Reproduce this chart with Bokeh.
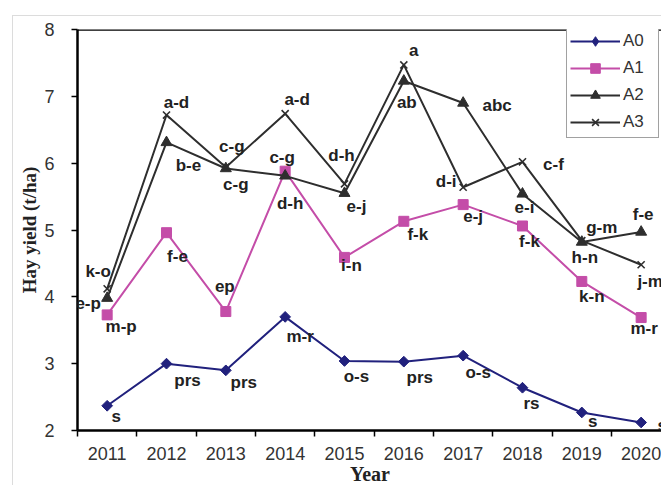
import math

from bokeh.core.properties import value
from bokeh.embed import file_html
from bokeh.models import (ColumnDataSource, FixedTicker, LabelSet, Range1d,
                          Span, Title)
from bokeh.plotting import figure
from bokeh.resources import INLINE

# Hay yield (t/ha) per treatment and year
years = [2011, 2012, 2013, 2014, 2015, 2016, 2017, 2018, 2019, 2020]
a0 = [2.37, 3.00, 2.90, 3.70, 3.04, 3.03, 3.12, 2.64, 2.27, 2.12]
a1 = [3.73, 4.96, 3.78, 5.88, 4.59, 5.13, 5.38, 5.06, 4.23, 3.69]
a2 = [3.98, 6.31, 5.92, 5.81, 5.55, 7.23, 6.90, 5.54, 4.82, 4.97]
a3 = [4.12, 6.72, 5.94, 6.74, 5.69, 7.47, 5.64, 6.02, 4.84, 4.48]

# Mean-separation letters
a0_letters = ["s", "prs", "prs", "m-r", "o-s", "prs", "o-s", "rs", "s", "s"]
a1_letters = ["m-p", "f-e", "ep", "d-h", "i-n", "f-k", "e-j", "f-k", "k-n", "m-r"]
a2_letters = ["e-p", "b-e", "c-g", "c-g", "e-j", "ab", "abc", "e-i", "g-m", "f-e"]
a3_letters = ["k-o", "a-d", "c-g", "a-d", "d-h", "a", "d-i", "c-f", "h-n", "j-m"]

# Pixel offsets (right, up) of each letter group from its point
a0_dx = [9, 21, 18, 15, 12, 16, 15, 9, 11, 21]
a0_dy = [-11, -17, -12, -20, -16, -16, -17, -16, -9, -3]
a1_dx = [14, 11, -1, 5, 7, 14, 10, 7, 10, 3]
a1_dy = [-12, -24, 25, -32, -8, -13, -12, -16, -15, -11]
a2_dx = [-19, 22, 10, -3, 12, 3, 34, 2, 20, 2]
a2_dy = [-5, -23, -16, 18, -13, -22, -2, -14, 15, 18]
a3_dx = [-9, 10, 6, 12, -3, 10, -17, 31, 3, 9]
a3_dy = [17, 13, 21, 14, 28, 14, 6, -3, -17, -17]

series = [
    ("A0", a0, a0_letters, a0_dx, a0_dy, "#21217d", "square", 7.6, math.pi / 4),
    ("A1", a1, a1_letters, a1_dx, a1_dy, "#c44da8", "square", 10, 0.0),
    ("A2", a2, a2_letters, a2_dx, a2_dy, "#2e2e2e", "triangle", 11, 0.0),
    ("A3", a3, a3_letters, a3_dx, a3_dy, "#2e2e2e", "x", 10, 0.0),
]

OX, OY = 13, 16  # page offset of the figure inside the grey frame
W, H = 662 - OX, 486 - OY

p = figure(
    width=W, height=H,
    x_range=Range1d(2010.5, 2020.36), y_range=Range1d(2, 8),
    output_backend="svg", toolbar_location=None,
    min_border_left=77 - OX, min_border_top=29 - OY,
    min_border_right=0, min_border_bottom=486 - 433,
    background_fill_color="white", border_fill_color="white",
)
p.margin = (15, 0, 0, 12)
p.styles = {"border-left": "1px solid #dcdcdc", "border-top": "1px solid #dcdcdc"}
p.outline_line_color = None
p.grid.visible = False

xa = p.xaxis[0]
xa.ticker = FixedTicker(ticks=years, minor_ticks=[y - 0.5 for y in years] + [2020.5])
xa.major_tick_line_color = None
xa.minor_tick_in = 0
xa.minor_tick_out = 6
xa.minor_tick_line_color = "black"
xa.minor_tick_line_width = 1.5
xa.axis_line_color = "black"
xa.axis_line_width = 2.5
xa.major_label_text_font = "Liberation Sans"
xa.major_label_text_font_size = "18px"
xa.major_label_text_color = "#333333"
xa.major_label_standoff = 10

ya = p.yaxis[0]
ya.ticker = FixedTicker(ticks=[2, 3, 4, 5, 6, 7, 8], minor_ticks=[])
ya.major_tick_in = 0
ya.major_tick_out = 6
ya.major_tick_line_color = "black"
ya.major_tick_line_width = 1.5
ya.axis_line_color = "black"
ya.axis_line_width = 2.5
ya.major_label_text_font = "Liberation Sans"
ya.major_label_text_font_size = "18px"
ya.major_label_text_color = "#333333"
ya.major_label_standoff = 17

# top border of the plot area
p.add_layout(Span(location=8, dimension="width", line_color="black", line_width=2.5))

for name, vals, letters, dx, dy, color, marker, size, angle in series:
    src = ColumnDataSource(dict(x=years, y=vals, t=letters, dx=dx, dy=dy))
    p.line("x", "y", source=src, line_color=color, line_width=2, legend_label=name)
    if marker == "x":
        p.scatter("x", "y", source=src, marker=marker, size=size, line_color=color,
                  line_width=1.6, legend_label=name)
    elif angle:
        # rotated square on the chart, a hidden diamond renderer keys the legend
        p.scatter("x", "y", source=src, marker=marker, size=size, angle=angle,
                  fill_color=color, line_color=color)
        p.scatter("x", "y", source=src, marker="diamond", size=size,
                  fill_color=color, line_color=color, legend_label=name,
                  visible=False)
    else:
        p.scatter("x", "y", source=src, marker=marker, size=size,
                  fill_color=color, line_color=color, legend_label=name)
    p.add_layout(LabelSet(
        x="x", y="y", text="t", source=src, x_offset="dx", y_offset="dy",
        text_align="center", text_baseline="middle",
        text_font=value("Liberation Sans"), text_font_style="bold",
        text_font_size="17px", text_color="#222222",
    ))

lg = p.legend[0]
lg.location = (566 - 77, 433 - 29 - 112)
lg.border_line_color = "#444444"
lg.border_line_width = 1.5
lg.background_fill_alpha = 1
lg.inactive_fill_alpha = 0
lg.padding = 3
lg.spacing = 3
lg.margin = 0
lg.glyph_width = 50
lg.glyph_height = 24
lg.label_height = 24
lg.label_width = 32
lg.label_standoff = 3
lg.label_text_font = "Liberation Sans"
lg.label_text_font_size = "17px"
lg.label_text_color = "#333333"

# axis titles
p.add_layout(Title(
    text="Hay yield (t/ha)", align="center", offset=-32, standoff=0,
    text_line_height=1.78, vertical_align="top",
    text_font="Liberation Serif", text_font_style="bold",
    text_font_size="19px", text_color="#222222",
), "left")
p.add_layout(Title(
    text="Year", align="center", offset=10, standoff=0,
    text_line_height=0.1, vertical_align="top",
    text_font="Liberation Serif", text_font_style="bold",
    text_font_size="20px", text_color="#222222",
), "below")

open("out.html", "w").write(file_html(p, INLINE))
